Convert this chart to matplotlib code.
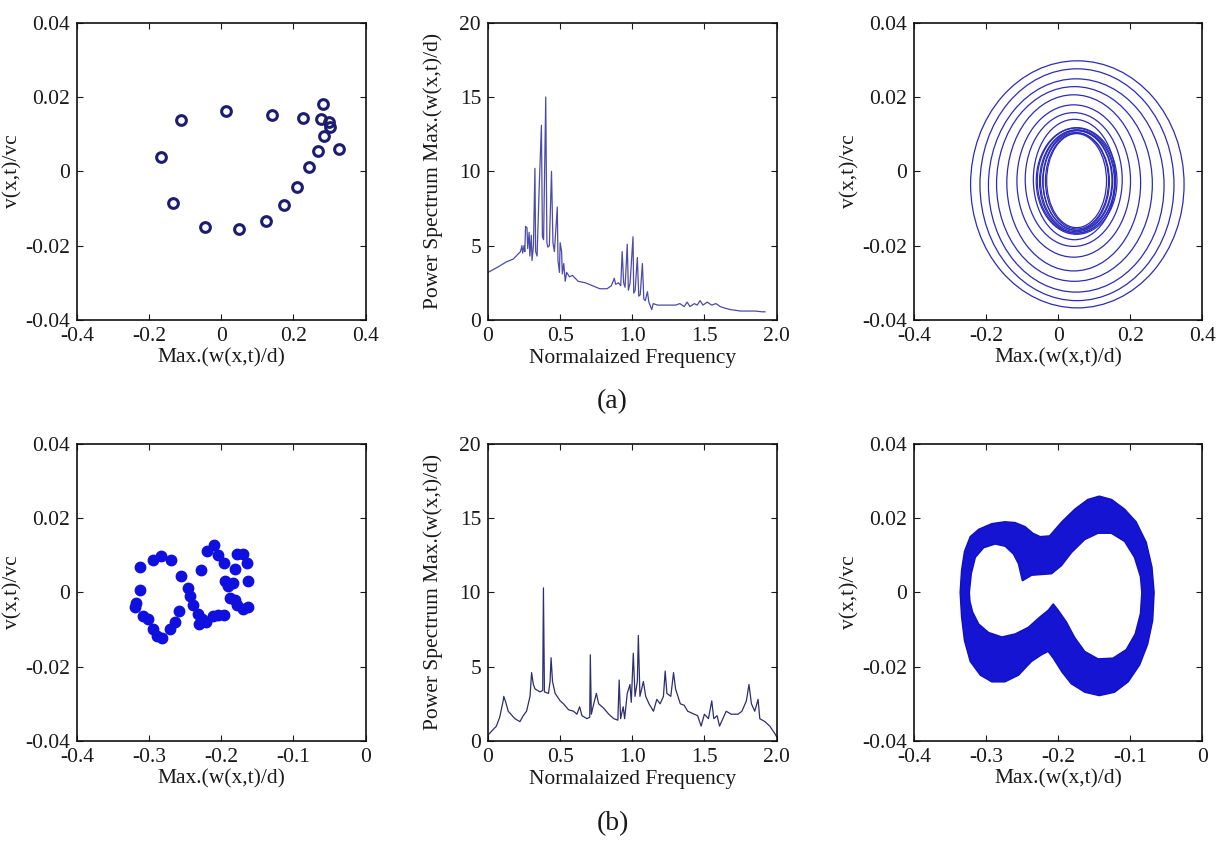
import matplotlib
matplotlib.use("Agg")
import matplotlib.pyplot as plt
from matplotlib.patches import Ellipse, PathPatch
from matplotlib.path import Path

plt.rcParams['font.family'] = ['Liberation Serif', 'DejaVu Serif']
plt.rcParams['axes.unicode_minus'] = False

# (a) top-left: Poincare points
pa_x = [-0.167, -0.112, -0.135, -0.045, 0.014, 0.048, 0.123, 0.140, 0.174, 0.211,
        0.226, 0.244, 0.268, 0.276, 0.282, 0.286, 0.300, 0.302, 0.326]
pa_y = [0.0039, 0.0137, -0.0085, -0.0151, 0.0162, -0.0156, -0.0134, 0.0153, -0.0090, -0.0041,
        0.0144, 0.0011, 0.0055, 0.0140, 0.0181, 0.0094, 0.0134, 0.0120, 0.0060]

# (a) top-middle: power spectrum
sa_freq = [0.0, 0.075, 0.125, 0.175, 0.205, 0.225, 0.235, 0.24, 0.25, 0.255, 0.26, 0.27, 0.275,
           0.285, 0.29, 0.30, 0.305, 0.315, 0.325, 0.33, 0.34, 0.355, 0.37, 0.377, 0.385, 0.40,
           0.408, 0.415, 0.425, 0.44, 0.45, 0.46, 0.48, 0.485, 0.495, 0.50, 0.51, 0.515, 0.525,
           0.535, 0.545, 0.565, 0.585, 0.605, 0.625, 0.675, 0.725, 0.775, 0.825, 0.855, 0.875,
           0.885, 0.905, 0.92, 0.93, 0.94, 0.95, 0.965, 0.973, 0.985, 1.005, 1.01, 1.02, 1.035,
           1.045, 1.055, 1.07, 1.08, 1.09, 1.105, 1.115, 1.135, 1.145, 1.175, 1.20, 1.25, 1.30,
           1.33, 1.36, 1.38, 1.40, 1.43, 1.45, 1.47, 1.49, 1.52, 1.55, 1.58, 1.61, 1.64, 1.68,
           1.75, 1.85, 1.90, 1.92]
sa_power = [3.2, 3.6, 3.9, 4.1, 4.4, 4.6, 5.0, 4.5, 5.0, 4.6, 6.3, 6.2, 4.8,
            5.9, 4.3, 5.7, 4.0, 5.0, 10.2, 4.6, 4.3, 9.0, 13.1, 5.6, 5.4, 15.0,
            5.2, 4.9, 5.0, 10.0, 5.2, 4.6, 7.6, 4.0, 3.2, 5.2, 4.6, 3.1, 3.8,
            2.6, 3.2, 2.9, 3.0, 2.8, 2.6, 2.5, 2.3, 2.1, 2.1, 2.3, 2.8,
            2.4, 2.5, 2.3, 4.6, 2.5, 2.2, 5.1, 2.0, 2.5, 5.6, 1.8, 2.0, 4.2,
            1.6, 1.7, 3.8, 1.4, 1.3, 1.9, 1.2, 0.7, 1.1, 1.0, 1.0, 1.0, 1.0,
            1.1, 0.9, 1.2, 0.9, 1.1, 1.0, 1.3, 1.0, 1.2, 1.0, 1.1, 0.9, 0.8, 0.7,
            0.6, 0.6, 0.55, 0.55]

# (a) top-right: phase portrait loops (centre, width, height)
la_cx = [0.053, 0.052, 0.050, 0.045, 0.043, 0.043, 0.043, 0.045,
         0.051, 0.050, 0.052, 0.051, 0.053, 0.050, 0.052, 0.051]
la_cy = [-0.0035, -0.0036, -0.0038, -0.0034, -0.0031, -0.0026, -0.0022, -0.0022,
         -0.0026, -0.0025, -0.0027, -0.0026, -0.0025, -0.0027, -0.0026, -0.0025]
la_w = [0.592, 0.538, 0.487, 0.432, 0.371, 0.315, 0.269, 0.228,
        0.224, 0.216, 0.208, 0.200, 0.192, 0.184, 0.175, 0.166]
la_h = [0.0665, 0.0624, 0.0574, 0.0524, 0.0474, 0.0410, 0.0360, 0.0324,
        0.0287, 0.0283, 0.0278, 0.0273, 0.0268, 0.0263, 0.0258, 0.0253]

# (b) bottom-left: Poincare points
pb_x = [-0.313, -0.313, -0.320, -0.308, -0.3015, -0.2946, -0.2886, -0.2816, -0.2705, -0.2645,
        -0.259, -0.2946, -0.2839, -0.2691, -0.2553, -0.246, -0.2428, -0.2391, -0.2321, -0.2307,
        -0.2261, -0.2206, -0.2113, -0.2044, -0.1965, -0.1882, -0.1905, -0.1951, -0.1965, -0.2044,
        -0.2099, -0.2197, -0.2284, -0.178, -0.1697, -0.1642, -0.1628, -0.1628, -0.1706, -0.178,
        -0.1813, -0.1836, -0.1808, -0.3186]
pb_y = [0.0069, 0.0007, -0.0040, -0.0064, -0.0073, -0.0099, -0.0117, -0.0124, -0.0099, -0.0081,
        -0.0050, 0.0087, 0.0097, 0.0087, 0.0043, 0.0012, -0.0011, -0.0033, -0.0059, -0.0086,
        -0.0073, -0.0081, -0.0064, -0.0062, -0.0062, -0.0015, 0.0016, 0.0031, 0.0078, 0.0100,
        0.0127, 0.0112, 0.0060, 0.0104, 0.0103, 0.0078, 0.0031, -0.0039, -0.0046, -0.0033,
        -0.0020, 0.0025, 0.0063, -0.0030]

# (b) bottom-middle: power spectrum
sb_freq = [0.0, 0.058, 0.081, 0.105, 0.109, 0.123, 0.14, 0.186, 0.221, 0.244, 0.267, 0.291,
           0.302, 0.314, 0.326, 0.36, 0.379, 0.384, 0.391, 0.419, 0.43, 0.437, 0.447, 0.465,
           0.5, 0.523, 0.558, 0.593, 0.616, 0.635, 0.651, 0.686, 0.705, 0.709, 0.716, 0.733,
           0.751, 0.767, 0.802, 0.837, 0.872, 0.9, 0.909, 0.919, 0.937, 0.947, 0.965, 0.984,
           0.993, 1.007, 1.019, 1.035, 1.042, 1.053, 1.077, 1.093, 1.116, 1.147, 1.17, 1.193,
           1.216, 1.228, 1.24, 1.267, 1.286, 1.3, 1.333, 1.36, 1.384, 1.453, 1.477, 1.5,
           1.528, 1.551, 1.565, 1.588, 1.605, 1.628, 1.651, 1.686, 1.733, 1.76, 1.791, 1.809,
           1.826, 1.849, 1.872, 1.884, 1.919, 1.953, 1.988, 2.0]
sb_power = [0.4, 1.0, 1.6, 2.7, 3.0, 2.6, 2.0, 1.5, 1.3, 1.7, 2.0, 3.0,
            4.6, 3.8, 3.5, 3.3, 3.4, 10.3, 3.3, 3.2, 4.0, 5.6, 4.0, 3.2,
            2.7, 2.5, 2.1, 2.0, 1.8, 2.3, 1.7, 1.5, 1.6, 5.8, 1.8, 2.5,
            3.2, 2.5, 2.2, 1.8, 1.5, 1.4, 4.1, 1.5, 2.3, 1.5, 3.2, 3.8,
            2.6, 5.9, 3.0, 4.0, 7.1, 3.0, 4.0, 3.0, 2.5, 2.0, 2.8, 2.5,
            3.0, 4.7, 3.2, 3.0, 4.6, 3.5, 2.5, 2.4, 2.0, 1.7, 1.0, 1.8,
            1.5, 2.7, 1.5, 1.7, 1.0, 1.5, 2.0, 1.8, 1.8, 2.0, 2.7, 3.8,
            2.5, 2.0, 2.8, 1.5, 1.3, 1.0, 0.5, 0.3]

# (b) bottom-right: figure-eight band (outer edge and inner hole)
bo_x = [-0.336, -0.334, -0.330, -0.322, -0.310, -0.292, -0.274, -0.260, -0.246, -0.235,
        -0.225, -0.212, -0.195, -0.177, -0.159, -0.143, -0.126, -0.108, -0.092, -0.078,
        -0.070, -0.067, -0.069, -0.076, -0.087, -0.103, -0.122, -0.143, -0.163, -0.182,
        -0.195, -0.207, -0.214, -0.223, -0.237, -0.255, -0.274, -0.292, -0.308, -0.322,
        -0.330, -0.334]
bo_y = [0.000, 0.006, 0.011, 0.015, 0.017, 0.0185, 0.019, 0.0188, 0.0177, 0.0159,
        0.0150, 0.0152, 0.019, 0.0224, 0.025, 0.0259, 0.025, 0.0224, 0.019, 0.0135,
        0.0068, 0.000, -0.0076, -0.014, -0.0195, -0.0241, -0.0269, -0.0278, -0.0269, -0.0246,
        -0.0214, -0.0177, -0.0159, -0.0168, -0.0186, -0.0223, -0.0241, -0.0241, -0.0223, -0.0186,
        -0.013, -0.0066]
bi_x = [-0.3232, -0.3205, -0.3149, -0.3034, -0.2874, -0.2736, -0.2621, -0.2552, -0.2497, -0.2368,
        -0.2092, -0.1954, -0.1816, -0.1632, -0.1448, -0.1264, -0.1080, -0.0943, -0.0860, -0.0841,
        -0.0860, -0.0933, -0.1057, -0.1241, -0.1448, -0.1632, -0.1770, -0.1885, -0.2000, -0.2069,
        -0.2138, -0.2253, -0.2414, -0.2598, -0.2782, -0.2966, -0.3103, -0.3186, -0.3223]
bi_y = [0.0, 0.0050, 0.0094, 0.0120, 0.0130, 0.0124, 0.0103, 0.0077, 0.0031, 0.0046,
        0.0050, 0.0072, 0.0107, 0.0142, 0.0159, 0.0159, 0.0137, 0.0094, 0.0042, 0.0,
        -0.0057, -0.0112, -0.0154, -0.0177, -0.0179, -0.0159, -0.0122, -0.0080, -0.0048, -0.0031,
        -0.0048, -0.0066, -0.0094, -0.0112, -0.0120, -0.0108, -0.0085, -0.0053, -0.0025]

fig = plt.figure(figsize=(12.25, 8.42), dpi=100)
lefts = [0.0629, 0.3984, 0.7461]
bottoms = [0.620, 0.120]
W, H = 0.2355, 0.3530
axs = [[fig.add_axes([l, b, W, H]) for l in lefts] for b in bottoms]

fs = 15.5
tc = '#1a1a1a'


def style(ax):
    ax.tick_params(direction='in', top=True, right=True, length=4, width=0.8,
                   labelsize=fs, colors=tc, pad=5)
    for s in ax.spines.values():
        s.set_linewidth(1.2)
        s.set_color('#111111')


def phase_axes(ax, xt, xl):
    ax.set_xlim(xt[0], xt[-1])
    ax.set_ylim(-0.04, 0.04)
    ax.set_xticks(xt)
    ax.set_xticklabels(xl)
    ax.set_yticks([-0.04, -0.02, 0, 0.02, 0.04])
    ax.set_yticklabels(['-0.04', '-0.02', '0', '0.02', '0.04'])
    ax.set_xlabel('Max.(w(x,t)/d)', fontsize=fs, color=tc, labelpad=2)
    ax.set_ylabel('v(x,t)/vc', fontsize=fs, color=tc, labelpad=2)
    style(ax)


def spec_axes(ax):
    ax.set_xlim(0, 2)
    ax.set_ylim(0, 20)
    ax.set_xticks([0, 0.5, 1.0, 1.5, 2.0])
    ax.set_xticklabels(['0', '0.5', '1.0', '1.5', '2.0'])
    ax.set_yticks([0, 5, 10, 15, 20])
    ax.set_yticklabels(['0', '5', '10', '15', '20'])
    ax.set_xlabel('Normalaized Frequency', fontsize=fs, color=tc, labelpad=2)
    ax.set_ylabel('Power Spectrum Max.(w(x,t)/d)', fontsize=fs, color=tc, labelpad=12)
    style(ax)


xa = [-0.4, -0.2, 0, 0.2, 0.4]
xa_l = ['-0.4', '-0.2', '0', '0.2', '0.4']
xb = [-0.4, -0.3, -0.2, -0.1, 0]
xb_l = ['-0.4', '-0.3', '-0.2', '-0.1', '0']

# top-left
ax = axs[0][0]
ax.plot(pa_x, pa_y, 'o', mfc='none', mec='#1c1c70', ms=7, mew=2.2)
phase_axes(ax, xa, xa_l)

# top-middle
ax = axs[0][1]
ax.plot(sa_freq, sa_power, color='#4b4ba8', lw=0.9)
spec_axes(ax)

# top-right
ax = axs[0][2]
for cx, cy, w, h in zip(la_cx, la_cy, la_w, la_h):
    ax.add_patch(Ellipse((cx, cy), w, h, fill=False, ec='#2c2cb8', lw=0.9))
phase_axes(ax, xa, xa_l)

# bottom-left
ax = axs[1][0]
ax.plot(pb_x, pb_y, 'o', color='#0f0fe0', ms=7.5)
phase_axes(ax, xb, xb_l)

# bottom-middle
ax = axs[1][1]
ax.plot(sb_freq, sb_power, color='#2e2e70', lw=0.9)
spec_axes(ax)

# bottom-right
ax = axs[1][2]
verts = list(zip(bo_x, bo_y)) + [(bo_x[0], bo_y[0])] + \
    list(zip(bi_x[::-1], bi_y[::-1])) + [(bi_x[-1], bi_y[-1])]
codes = [Path.MOVETO] + [Path.LINETO] * (len(bo_x) - 1) + [Path.CLOSEPOLY] + \
    [Path.MOVETO] + [Path.LINETO] * (len(bi_x) - 1) + [Path.CLOSEPOLY]
ax.add_patch(PathPatch(Path(verts, codes), fc='#1414d2', ec='#1010c0', lw=1.0))
phase_axes(ax, xb, xb_l)

fig.text(0.5, 0.5226, '(a)', ha='center', va='center', fontsize=20, color=tc)
fig.text(0.5, 0.022, '(b)', ha='center', va='center', fontsize=20, color=tc)

fig.savefig('out.png', dpi=100)
